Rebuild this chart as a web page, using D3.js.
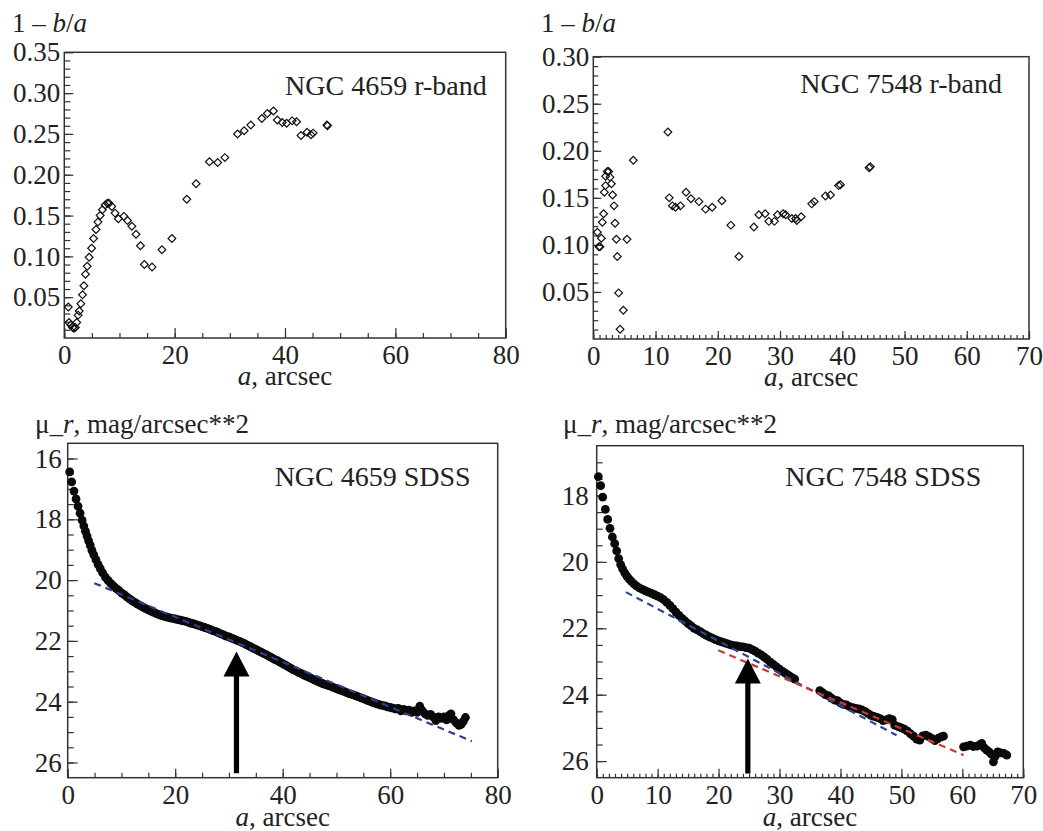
<!DOCTYPE html>
<html>
<head>
<meta charset="utf-8" />
<script src="https://d3js.org/d3.v7.min.js"></script>
<style>
  body { margin: 0; background: #fff; }
</style>
</head>
<body>
<div id="chart"></div>
<script>
// --- NGC 4659, r-band ellipticity 1 - b/a
const ell4659A = [0.73, 0.85, 1.2, 1.5, 1.75, 2.0, 2.25, 2.5, 2.7, 3.0, 3.3, 3.55, 3.85, 4.15, 4.5, 4.95,
  5.3, 5.75, 6.1, 6.5, 6.9, 7.4, 7.8, 8.1, 8.6, 9.2, 9.8, 10.8, 11.45, 12.25, 13.0, 13.8, 14.5, 15.9,
  17.7, 19.5, 22.2, 23.9, 26.3, 27.8, 29.1, 31.4, 32.6, 33.8, 35.8, 36.8, 37.9, 38.6, 39.5, 40.3, 41.3,
  42.1, 42.9, 44.0, 44.7, 45.1, 47.7, 47.6];
const ell4659E = [0.038, 0.019, 0.016, 0.013, 0.012, 0.013, 0.019, 0.028, 0.033, 0.042, 0.053, 0.064,
  0.078, 0.088, 0.099, 0.110, 0.122, 0.133, 0.142, 0.150, 0.157, 0.163, 0.165, 0.165, 0.161, 0.153,
  0.146, 0.149, 0.144, 0.137, 0.127, 0.113, 0.090, 0.087, 0.108, 0.122, 0.170, 0.189, 0.216, 0.215,
  0.221, 0.250, 0.254, 0.261, 0.269, 0.275, 0.278, 0.267, 0.264, 0.263, 0.266, 0.265, 0.248, 0.252,
  0.249, 0.251, 0.260, 0.261];

// --- NGC 7548, r-band ellipticity 1 - b/a
const ell7548A = [0.65, 0.92, 1.07, 1.29, 1.45, 1.66, 1.77, 1.98, 1.98, 2.25, 2.47, 2.68, 2.9, 3.1,
  3.33, 3.49, 3.7, 3.86, 4.07, 4.3, 4.82, 5.41, 6.43, 11.99, 12.2, 12.7, 13.2, 14.0, 14.9, 15.7, 16.97,
  18.04, 19.1, 20.66, 22.1, 23.4, 25.8, 26.6, 27.6, 28.2, 29.1, 29.6, 30.5, 30.9, 31.9, 32.5, 32.7,
  33.4, 35.1, 35.5, 37.3, 38.1, 39.4, 39.7, 44.3, 44.5];
const ell7548E = [0.1135, 0.098, 0.098, 0.107, 0.124, 0.133, 0.156, 0.163, 0.173, 0.178, 0.178, 0.172,
  0.165, 0.153, 0.1415, 0.123, 0.106, 0.0876, 0.049, 0.0103, 0.0305, 0.106, 0.190, 0.220, 0.150,
  0.1415, 0.140, 0.1415, 0.156, 0.149, 0.146, 0.138, 0.140, 0.147, 0.121, 0.0876, 0.119, 0.132, 0.133,
  0.125, 0.125, 0.132, 0.133, 0.132, 0.128, 0.128, 0.126, 0.130, 0.1436, 0.146, 0.152, 0.153, 0.163,
  0.164, 0.182, 0.183];

// --- NGC 4659, SDSS surface brightness profile mu_r
const mu4659A = [0.37, 0.74, 1.17, 1.55, 1.92, 2.3, 2.67, 3.0, 3.3, 3.6, 3.9, 4.2, 4.5, 4.85, 5.25, 5.65,
  6.05, 6.5, 7.0, 7.5, 8.0, 8.5, 9.0, 9.5, 10.0, 10.5, 11.0, 11.5, 12.0, 12.5, 13.0, 13.5, 14.0, 14.5,
  15.0, 15.5, 16.0, 16.5, 17.0, 17.5, 18.0, 18.5, 19.0, 19.5, 20.0, 20.5, 21.0, 21.5, 22.0, 22.5, 23.0,
  23.5, 24.0, 24.5, 25.0, 25.5, 26.0, 26.5, 27.0, 27.5, 28.0, 28.5, 29.0, 29.5, 30.0, 30.5, 31.0, 31.5,
  32.0, 32.5, 33.0, 33.5, 34.0, 34.5, 35.0, 35.5, 36.0, 36.5, 37.0, 37.5, 38.0, 38.5, 39.0, 39.5, 40.0,
  40.5, 41.0, 41.5, 42.0, 42.5, 43.0, 43.5, 44.0, 44.5, 45.0, 45.5, 46.0, 46.5, 47.0, 47.5, 48.0, 48.5,
  49.0, 49.5, 50.0, 50.5, 51.0, 51.5, 52.0, 52.5, 53.0, 53.5, 54.0, 54.5, 55.0, 55.5, 56.0, 56.5, 57.0,
  57.5, 58.0, 58.5, 59.0, 59.5, 60.0, 60.5, 61.0, 61.5, 62.0, 62.5, 63.0, 63.5, 64.0, 64.5, 65.0, 65.5,
  66.0, 66.5, 67.0, 67.5, 68.0, 68.5, 69.0, 69.5, 70.0, 70.5, 71.0, 71.3, 71.8, 72.3, 72.8, 73.2, 73.6,
  74.0];
const mu4659M = [16.44, 16.77, 17.07, 17.33, 17.57, 17.80, 18.03, 18.22, 18.39, 18.55, 18.71, 18.86,
  19.02, 19.17, 19.33, 19.48, 19.62, 19.76, 19.90, 20.01, 20.11, 20.19, 20.27, 20.34, 20.42, 20.48,
  20.55, 20.62, 20.68, 20.73, 20.79, 20.84, 20.89, 20.94, 20.98, 21.02, 21.06, 21.10, 21.14, 21.17,
  21.19, 21.22, 21.24, 21.26, 21.28, 21.30, 21.32, 21.34, 21.36, 21.39, 21.42, 21.44, 21.47, 21.50,
  21.53, 21.56, 21.59, 21.62, 21.66, 21.69, 21.73, 21.77, 21.80, 21.84, 21.87, 21.91, 21.94, 21.98,
  22.02, 22.06, 22.10, 22.15, 22.19, 22.24, 22.28, 22.33, 22.37, 22.42, 22.46, 22.51, 22.56, 22.61,
  22.65, 22.70, 22.75, 22.80, 22.85, 22.90, 22.95, 22.99, 23.04, 23.08, 23.13, 23.17, 23.21, 23.25,
  23.29, 23.33, 23.37, 23.41, 23.44, 23.47, 23.50, 23.54, 23.57, 23.61, 23.64, 23.67, 23.71, 23.74,
  23.77, 23.80, 23.83, 23.87, 23.90, 23.94, 23.97, 24.01, 24.04, 24.07, 24.10, 24.12, 24.14, 24.17,
  24.19, 24.21, 24.24, 24.22, 24.30, 24.25, 24.30, 24.28, 24.35, 24.30, 24.35, 24.15, 24.30, 24.40,
  24.45, 24.42, 24.50, 24.62, 24.50, 24.55, 24.50, 24.60, 24.45, 24.40, 24.60, 24.70, 24.78, 24.75,
  24.65, 24.52];

// --- NGC 7548, SDSS surface brightness profile mu_r
const mu7548A = [0.27, 0.65, 0.98, 1.42, 1.8, 2.18, 2.57, 2.95, 3.28, 3.61, 3.93, 4.25, 4.6, 4.95, 5.3,
  5.7, 6.1, 6.5, 7.0, 7.5, 8.0, 8.5, 9.0, 9.5, 10.0, 10.5, 11.0, 11.5, 12.0, 12.5, 13.0, 13.5, 14.0,
  14.5, 15.0, 15.5, 16.0, 16.5, 17.0, 17.5, 18.0, 18.5, 19.0, 19.5, 20.0, 20.5, 21.0, 21.5, 22.0, 22.5,
  23.0, 23.5, 24.0, 24.5, 25.0, 25.5, 26.0, 26.5, 27.0, 27.5, 28.0, 28.5, 29.0, 29.5, 30.0, 30.5, 31.0,
  31.5, 32.0, 32.5, 36.6, 37.0, 37.5, 38.0, 38.5, 39.0, 39.5, 40.0, 40.5, 41.0, 41.5, 42.0, 42.5, 43.0,
  43.5, 44.0, 44.5, 45.0, 45.5, 46.0, 46.5, 47.0, 47.5, 48.0, 48.5, 48.9, 49.5, 50.0, 50.5, 51.0, 51.5,
  52.0, 52.5, 53.0, 53.5, 54.0, 54.5, 55.0, 55.5, 56.0, 56.5, 56.9, 60.2, 60.7, 61.3, 61.8, 62.4, 62.9,
  63.2, 63.6, 64.0, 64.4, 64.8, 65.1, 65.4, 65.8, 66.3, 66.8, 67.3];
const mu7548M = [17.43, 17.70, 18.05, 18.42, 18.72, 18.99, 19.25, 19.45, 19.67, 19.90, 20.08, 20.21,
  20.33, 20.43, 20.51, 20.59, 20.66, 20.72, 20.78, 20.83, 20.87, 20.91, 20.95, 20.99, 21.03, 21.08,
  21.14, 21.22, 21.31, 21.41, 21.51, 21.61, 21.70, 21.78, 21.86, 21.93, 22.00, 22.05, 22.10, 22.16,
  22.21, 22.26, 22.30, 22.34, 22.38, 22.41, 22.44, 22.47, 22.50, 22.52, 22.53, 22.55, 22.56, 22.58,
  22.60, 22.64, 22.69, 22.75, 22.80, 22.87, 22.94, 23.02, 23.09, 23.16, 23.23, 23.30, 23.36, 23.42,
  23.48, 23.53, 23.88, 23.93, 24.00, 24.03, 24.10, 24.16, 24.18, 24.25, 24.29, 24.31, 24.36, 24.39,
  24.41, 24.43, 24.46, 24.50, 24.56, 24.62, 24.65, 24.68, 24.72, 24.78, 24.76, 24.72, 24.75, 24.92,
  24.96, 25.00, 25.04, 25.10, 25.18, 25.25, 25.34, 25.37, 25.24, 25.22, 25.26, 25.32, 25.38, 25.32,
  25.27, 25.25, 25.57, 25.55, 25.52, 25.56, 25.55, 25.50, 25.47, 25.60, 25.67, 25.72, 25.80, 26.02,
  25.85, 25.72, 25.75, 25.77, 25.82];

// exponential disc fits (end points, a and mu)
const fit4659Blue = [[4.95, 20.10], [75.2, 25.30]];
const fit7548Blue = [[4.8, 20.91], [49.2, 25.22]];
const fit7548Red = [[19.95, 22.66], [60.2, 25.82]];
// arrows: a, tip mu, foot mu
const arrow4659 = [31.4, 22.35, 26.35];
const arrow7548 = [24.8, 22.91, 26.37];

// tick labels
const ticksX80 = [0, 20, 40, 60, 80];
const ticksX70 = [0, 10, 20, 30, 40, 50, 60, 70];
const ticksE35 = [0.05, 0.10, 0.15, 0.20, 0.25, 0.30, 0.35];
const ticksE30 = [0.05, 0.10, 0.15, 0.20, 0.25, 0.30];
const ticksMu4659 = [16, 18, 20, 22, 24, 26];
const ticksMu7548 = [18, 20, 22, 24, 26];

const FONT = "\"Liberation Serif\"";
const W = 1043, H = 831;
const svg = d3.select("#chart").append("svg")
  .attr("width", W).attr("height", H);

function txt(sel, size) {
  return sel.style("font-family", FONT).style("font-size", size + "px").attr("fill", "#222");
}

function panel(c) {
  const x = d3.scaleLinear().domain(c.xDomain).range([c.left, c.right]);
  const y = d3.scaleLinear().domain(c.yDomain).range([c.bottom, c.top]);
  const g = svg.append("g");

  function styleAxis(sel) {
    sel.select(".domain").remove();
    sel.attr("font-family", null).attr("font-size", null);
    sel.selectAll("line").attr("stroke", "#333").attr("stroke-width", 1.2);
    txt(sel.selectAll("text"), 27);
  }

  // minor ticks
  g.append("g").attr("transform", `translate(0,${c.bottom})`)
    .call(d3.axisBottom(x).tickValues(c.xMinor).tickSize(-c.xMinorLen).tickFormat(""))
    .call(styleAxis);
  g.append("g").attr("transform", `translate(${c.left},0)`)
    .call(d3.axisLeft(y).tickValues(c.yMinor).tickSize(-c.yMinorLen).tickFormat(""))
    .call(styleAxis);
  // major ticks with labels
  g.append("g").attr("transform", `translate(0,${c.bottom})`)
    .call(d3.axisBottom(x).tickValues(c.xTicks).tickSize(-c.xMajorLen).tickPadding(7).tickFormat(d3.format("d")))
    .call(styleAxis);
  g.append("g").attr("transform", `translate(${c.left},0)`)
    .call(d3.axisLeft(y).tickValues(c.yTicks).tickSize(-c.yMajorLen).tickPadding(c.yPad).tickFormat(c.yFormat))
    .call(styleAxis);

  // frame
  g.append("rect")
    .attr("x", c.left).attr("y", c.top)
    .attr("width", c.right - c.left).attr("height", c.bottom - c.top)
    .attr("fill", "none").attr("stroke", "#333").attr("stroke-width", 1.5);

  // y header
  const hy = txt(g.append("text").attr("x", c.headX).attr("y", c.headY), 27);
  c.head.forEach(([t, it]) => hy.append("tspan").text(t).style("font-style", it ? "italic" : "normal"));

  // x label
  const xl = txt(g.append("text").attr("x", (c.left + c.right) / 2).attr("y", c.xLabY)
    .attr("text-anchor", "middle"), 27);
  xl.append("tspan").text("a").style("font-style", "italic");
  xl.append("tspan").text(", arcsec");

  // title
  txt(g.append("text").attr("x", c.right - c.titleDx).attr("y", c.titleY)
    .attr("text-anchor", "end"), 28).text(c.title);

  return { x, y, g };
}

function diamonds(p, xs, ys) {
  const sym = d3.symbol().type(d3.symbolSquare).size(30);
  p.g.append("g").selectAll("path").data(xs.map((a, i) => [a, ys[i]])).join("path")
    .attr("d", sym)
    .attr("transform", d => `translate(${p.x(d[0])},${p.y(d[1])}) rotate(45)`)
    .attr("fill", "none").attr("stroke", "#111").attr("stroke-width", 1.2);
}

function dots(p, xs, ys) {
  p.g.append("g").selectAll("circle").data(xs.map((a, i) => [a, ys[i]])).join("circle")
    .attr("cx", d => p.x(d[0])).attr("cy", d => p.y(d[1])).attr("r", 4.4)
    .attr("fill", "#0a0a0a");
}

function fitLine(p, pts, color) {
  p.g.append("path").datum(pts)
    .attr("d", d3.line().x(d => p.x(d[0])).y(d => p.y(d[1])))
    .attr("fill", "none").attr("stroke", color).attr("stroke-width", 2.2)
    .attr("stroke-dasharray", "7,5");
}

function arrow(p, ar) {
  const cx = p.x(ar[0]), tip = p.y(ar[1]), foot = p.y(ar[2]);
  const hw = 13, hh = 25, sw = 2.6;
  const pts = [[cx, tip], [cx + hw, tip + hh], [cx + sw, tip + hh], [cx + sw, foot],
    [cx - sw, foot], [cx - sw, tip + hh], [cx - hw, tip + hh]];
  p.g.append("path").attr("d", "M" + pts.join("L") + "Z").attr("fill", "#000");
}

const minor = (a, b, s) => d3.range(a, b + s / 2, s);

// top-left: NGC 4659 r-band
const p1 = panel({
  left: 64.3, right: 505.7, top: 52.3, bottom: 338,
  xDomain: [0, 80], yDomain: [0, 0.35],
  xTicks: ticksX80, xMinor: minor(0, 80, 5), xMajorLen: 10, xMinorLen: 5,
  yTicks: ticksE35, yMinor: minor(0.01, 0.34, 0.01), yMajorLen: 9, yMinorLen: 6,
  yPad: 4, yFormat: d3.format(".2f"),
  head: [["1 \u2013 ", false], ["b", true], ["/", false], ["a", true]], headX: 12, headY: 32,
  xLabY: 385, title: "NGC 4659 r-band", titleDx: 19, titleY: 95
});
diamonds(p1, ell4659A, ell4659E);

// top-right: NGC 7548 r-band
const p2 = panel({
  left: 593.3, right: 1029, top: 56.7, bottom: 339,
  xDomain: [0, 70], yDomain: [0, 0.30],
  xTicks: ticksX70, xMinor: minor(0, 70, 1), xMajorLen: 8, xMinorLen: 4,
  yTicks: ticksE30, yMinor: minor(0.01, 0.29, 0.01), yMajorLen: 8, yMinorLen: 5,
  yPad: 4, yFormat: d3.format(".2f"),
  head: [["1 \u2013 ", false], ["b", true], ["/", false], ["a", true]], headX: 541, headY: 32,
  xLabY: 386, title: "NGC 7548 r-band", titleDx: 27, titleY: 93
});
diamonds(p2, ell7548A, ell7548E);

// bottom-left: NGC 4659 SDSS
const p3 = panel({
  left: 67.7, right: 497.7, top: 443.3, bottom: 777.7,
  xDomain: [0, 80], yDomain: [26.5, 15.5],
  xTicks: ticksX80, xMinor: minor(0, 80, 5), xMajorLen: 9, xMinorLen: 5,
  yTicks: ticksMu4659, yMinor: minor(16, 26, 0.5), yMajorLen: 10, yMinorLen: 6,
  yPad: 6, yFormat: d3.format("d"),
  head: [["\u03bc_", false], ["r", true], [", mag/arcsec**2", false]], headX: 35, headY: 433,
  xLabY: 826, title: "NGC 4659 SDSS", titleDx: 27, titleY: 486
});
dots(p3, mu4659A, mu4659M);
fitLine(p3, fit4659Blue, "#2c3f8e");
arrow(p3, arrow4659);

// bottom-right: NGC 7548 SDSS
const p4 = panel({
  left: 596.7, right: 1023.3, top: 445.7, bottom: 777.7,
  xDomain: [0, 70], yDomain: [26.5, 16.5],
  xTicks: ticksX70, xMinor: minor(0, 70, 1), xMajorLen: 9, xMinorLen: 4,
  yTicks: ticksMu7548, yMinor: minor(17, 26, 0.5), yMajorLen: 10, yMinorLen: 6,
  yPad: 8, yFormat: d3.format("d"),
  head: [["\u03bc_", false], ["r", true], [", mag/arcsec**2", false]], headX: 563, headY: 433,
  xLabY: 826, title: "NGC 7548 SDSS", titleDx: 42, titleY: 486
});
dots(p4, mu7548A, mu7548M);
fitLine(p4, fit7548Blue, "#2c4596");
fitLine(p4, fit7548Red, "#c83a36");
arrow(p4, arrow7548);
</script>
</body>
</html>
